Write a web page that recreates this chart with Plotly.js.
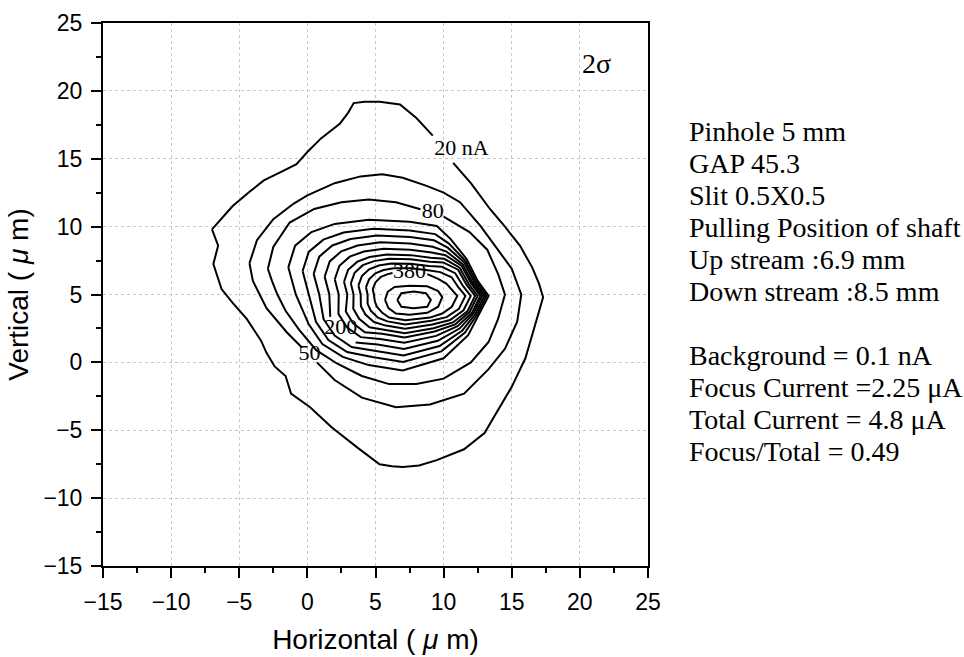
<!DOCTYPE html>
<html>
<head>
<meta charset="utf-8">
<script src="https://cdn.plot.ly/plotly-3.0.1.min.js"></script>
<style>html,body{margin:0;padding:0;background:#fff;}#chart{width:964px;height:657px;}</style>
</head>
<body>
<div id="chart"></div>
<script>
// Contour lines (x, y in µm); null = gap for a label
const contour20 = [[-7,9.8],[-5.5,11.5],[-4.2,12.6],[-3.2,13.4],[-2,14],[-0.8,14.6],[0,15.5],[1,16.5],[2.4,17.6],[3.0,18.4],[3.4,19.1],[4.2,19.2],[5.3,19.2],[6.8,19.0],[8,18.0],[9.2,16.7],null,[10.7,14.7],[12,13.2],[13.4,11.3],[14.5,10],[15.6,8.6],[16.5,7],[17.0,5.8],[17.3,4.8],[16.9,3.4],[16.6,2.3],[16,0.3],[15,-1.8],[13.8,-3.8],[13,-5.2],[11.5,-6.4],[9.5,-7.2],[8.2,-7.6],[7,-7.7],[6.2,-7.65],[5.3,-7.5],[3.7,-6.3],[1.8,-4.8],[0.2,-3.3],[-1.2,-2.3],[-1.6,-1.0],[-2.4,-0.3],[-3,0.7],[-3.4,1.6],[-4.45,3.2],[-5.5,4.4],[-6.3,5.4],[-6.9,7.25],[-6.55,8.6],[-7,9.8]];
const contour50 = [[-4.25,7.3],[-3.7,9],[-2.5,10.55],[-1,11.7],[0,12.3],[2,13.2],[3.9,13.7],[5.5,13.85],[7,13.6],[8.75,13.0],[10,12.5],[11.2,11.8],[12.7,10.06],[14,8.3],[15,6.9],[15.7,5.0],[15.4,3.0],[14.5,1.0],[13.3,-0.5],[11.5,-2.3],[9,-3.1],[6.5,-3.3],[4,-2.6],[2,-1.3],[0.7,0.0],null,[-0.4,1.1],[-1.5,2.2],[-3,4],[-4,6],[-4.25,7.3]];
const contour80 = [[-2.9,6.9],[-2.5,8.5],[-1.3,10.3],[0.5,11.3],[2.5,11.8],[4.5,12.0],[6.5,11.8],[8.3,11.28],null,[10.0,10.74],[11.9,9.6],[13.2,8.3],[14.0,6.5],[14.5,5.0],[14.0,3.2],[13.3,1.5],[12,0],[10,-1.2],[8,-1.6],[6,-1.6],[4,-1.0],[2.2,-0.1],[0.65,0.9],[-0.6,2.4],[-1.6,3.8],[-2.2,5],[-2.6,6],[-2.9,6.9]];
const contour110 = [[-1.4,7.0],[-0.9,8.6],[0.3,9.6],[2.0,10.2],[4.5,10.5],[7.5,10.35],[9.5,10.05],[10.5,9.1],[11.7,7.6],[12.5,6.0],[13.3,4.9],[12.6,3.5],[11.8,2.0],[10.0,0.3],[7.0,-0.6],[4.5,-0.2],[2.6,0.4],[1.1,1.35],[0.1,2.8],[-0.85,5.0],[-1.4,7.0]];
const contour140 = [[-0.35,6.73],[0.10,8.14],[1.17,9.04],[2.66,9.57],[4.84,9.84],[7.52,9.72],[9.38,9.45],[10.39,8.75],[11.60,7.48],[12.38,5.96],[13.15,4.9],[12.47,3.54],[11.57,2.19],[9.83,0.81],[7.03,0.03],[4.76,0.40],[2.92,0.76],[1.54,1.65],[0.63,2.99],[0.12,5.0],[-0.35,6.73]];
const contour170 = [[0.46,6.52],[0.87,7.79],[1.83,8.61],[3.17,9.09],[5.10,9.34],[7.53,9.23],[9.29,8.99],[10.30,8.45],[11.51,7.37],[12.25,5.92],[13.0,4.9],[12.34,3.58],[11.38,2.35],[9.70,1.20],[7.06,0.51],[4.95,0.85],[3.25,1.13],[2.00,1.97],[1.19,3.18],[0.87,5.0],[0.46,6.52]];
const contour200 = [[1.27,6.31],[1.64,7.44],[2.49,8.18],[3.68,8.61],[5.36,8.84],[7.54,8.75],[9.20,8.52],[10.21,8.16],[11.40,7.24],[12.12,5.87],[12.84,4.9],[12.20,3.62],[11.19,2.51],[9.57,1.59],[7.09,0.99],[5.15,1.31],[3.54,1.46],null,[1.68,3.35],[1.61,5.0],[1.27,6.31]];
const contour230 = [[2.01,6.12],[2.35,7.12],[3.11,7.79],[4.15,8.17],[5.60,8.37],[7.56,8.30],[9.12,8.10],[10.13,7.89],[11.31,7.13],[12.01,5.83],[12.70,4.9],[12.08,3.66],[11.02,2.66],[9.45,1.95],[7.11,1.44],[5.33,1.73],[3.91,1.86],[2.90,2.59],[2.28,3.57],[2.30,5.0],[2.01,6.12]];
const contour260 = [[2.69,5.94],[2.99,6.82],[3.67,7.42],[4.57,7.76],[5.82,7.95],[7.57,7.90],[9.04,7.71],[10.05,7.63],[11.18,6.97],[11.84,5.77],[12.50,4.9],[11.90,3.71],[10.85,2.80],[9.34,2.28],[7.13,1.84],[5.49,2.11],[4.22,2.22],[3.34,2.89],[2.82,3.75],[2.93,5.0],[2.69,5.94]];
const contour290 = [[3.19,5.82],[3.47,6.60],[4.07,7.16],[4.89,7.46],[5.98,7.64],[7.57,7.60],[8.98,7.42],[9.97,7.36],[11.06,6.83],[11.68,5.72],[12.31,4.9],[11.74,3.76],[10.68,2.94],[9.26,2.52],[7.15,2.14],[5.61,2.39],[4.56,2.59],[3.80,3.21],[3.37,3.95],[3.39,5.0],[3.19,5.82]];
const contour320 = [[3.75,5.67],[4.00,6.36],[4.53,6.86],[5.24,7.13],[6.16,7.29],[7.58,7.26],[8.92,7.10],[9.87,7.04],[10.85,6.57],[11.42,5.63],[11.99,4.9],[11.46,3.84],[10.47,3.12],[9.17,2.79],[7.17,2.47],[5.75,2.71],[4.89,2.97],[4.26,3.52],[3.93,4.14],[3.91,5.0],[3.75,5.67]];
const contour350 = [[4.30,5.53],[4.53,6.12],[4.99,6.56],[5.59,6.80],[6.34,6.94],[7.59,6.93],[8.86,6.78],[9.75,6.65],[10.59,6.27],[11.09,5.52],[11.60,4.9],[11.12,3.94],[10.22,3.33],[9.08,3.06],[7.18,2.80],[5.88,3.02],[5.18,3.29],[4.66,3.80],[4.42,4.31],[4.42,5.0],[4.30,5.53]];
const contour380 = [[8.8,6.5],[9.6,6.15],[10.2,5.8],[10.6,5.35],[11.0,4.9],[10.6,4.1],[9.9,3.6],[9.0,3.3],[7.2,3.1],[6.0,3.3],[5.5,3.65],[5.1,4.1],[4.95,4.5],[4.88,5.0],[4.8,5.4],[5.0,5.9],[5.4,6.3],[5.9,6.5],[6.25,6.59]];
const contour410 = [[5.7,4.6],[5.9,5.2],[6.4,5.55],[7.5,5.65],[8.8,5.6],[9.6,5.25],[9.9,4.8],[9.6,4.1],[8.8,3.65],[7.5,3.5],[6.5,3.6],[5.95,4.0],[5.7,4.6]];
const contour440 = [[6.6,4.6],[6.9,5.1],[7.8,5.22],[8.7,5.1],[9.06,4.6],[8.8,4.1],[7.8,3.99],[6.9,4.1],[6.6,4.6]];

// Contour labels
const labelText = ['20 nA', '80', '380', '200', '50'];
const labelX = [11.3, 9.2, 7.5, 2.45, 0.15];
const labelY = [15.65, 11.05, 6.62, 2.5, 0.55];

// Side notes
const infoLines = ['Pinhole 5 mm', 'GAP 45.3', 'Slit 0.5X0.5', 'Pulling Position of shaft',
  'Up stream :6.9 mm', 'Down stream :8.5 mm', '',
  'Background = 0.1 nA', 'Focus Current =2.25 \u03bcA', 'Total Current = 4.8 \u03bcA', 'Focus/Total = 0.49'];
const sigmaText = '2\u03c3';

const allContours = [contour20, contour50, contour80, contour110, contour140, contour170, contour200,
  contour230, contour260, contour290, contour320, contour350, contour380, contour410, contour440];

const traces = allContours.map(pts => ({
  type: 'scatter', mode: 'lines',
  x: pts.map(p => p ? p[0] : null),
  y: pts.map(p => p ? p[1] : null),
  line: {color: '#000', width: 2},
  connectgaps: false, hoverinfo: 'skip', showlegend: false
}));

traces.push({
  type: 'scatter', mode: 'text', x: labelX, y: labelY, text: labelText,
  textposition: 'middle center',
  textfont: {family: 'Liberation Serif, Times New Roman, serif', size: 22, color: '#000'},
  hoverinfo: 'skip', showlegend: false
});

const sansFont = 'Liberation Sans, Arial, sans-serif';
const serifFont = 'Liberation Serif, Times New Roman, serif';

function axisStyle(titleText, standoff) {
  return {
    range: [-15, 25], tick0: -15, dtick: 5,
    ticks: 'outside', ticklen: 10, tickwidth: 2, tickcolor: '#000',
    showline: true, linewidth: 2, linecolor: '#000', mirror: true,
    showgrid: true, gridcolor: '#c8c8c8', griddash: 'dot', gridwidth: 1,
    zeroline: false, fixedrange: true,
    tickfont: {family: sansFont, size: 23, color: '#000'},
    ticklabelstandoff: 4,
    minor: {ticks: 'outside', ticklen: 5, tickwidth: 2, tickcolor: '#000', dtick: 2.5, tick0: -15, showgrid: false},
    title: {text: titleText, font: {family: sansFont, size: 28, color: '#000'}, standoff: standoff}
  };
}

const annotations = infoLines.map((t, i) => ({
  text: t, xref: 'paper', yref: 'paper', x: 1.0715, y: 0.7993 - i * 0.05893,
  xanchor: 'left', yanchor: 'middle', showarrow: false,
  font: {family: serifFont, size: 28, color: '#000'}
})).filter(a => a.text !== '');

annotations.push({
  text: sigmaText, xref: 'x', yref: 'y', x: 21.2, y: 22.0,
  xanchor: 'center', yanchor: 'middle', showarrow: false,
  font: {family: serifFont, size: 28, color: '#000'}
});

const layout = {
  width: 964, height: 657,
  margin: {l: 103, r: 316, t: 23, b: 91, pad: 0},
  paper_bgcolor: '#fff', plot_bgcolor: '#fff',
  showlegend: false,
  xaxis: axisStyle('Horizontal ( <i>\u03bc</i> m)', 16),
  yaxis: axisStyle('Vertical ( <i>\u03bc</i> m)', 7),
  annotations: annotations
};

Plotly.newPlot('chart', traces, layout, {displayModeBar: false, staticPlot: true});
</script>
</body>
</html>
